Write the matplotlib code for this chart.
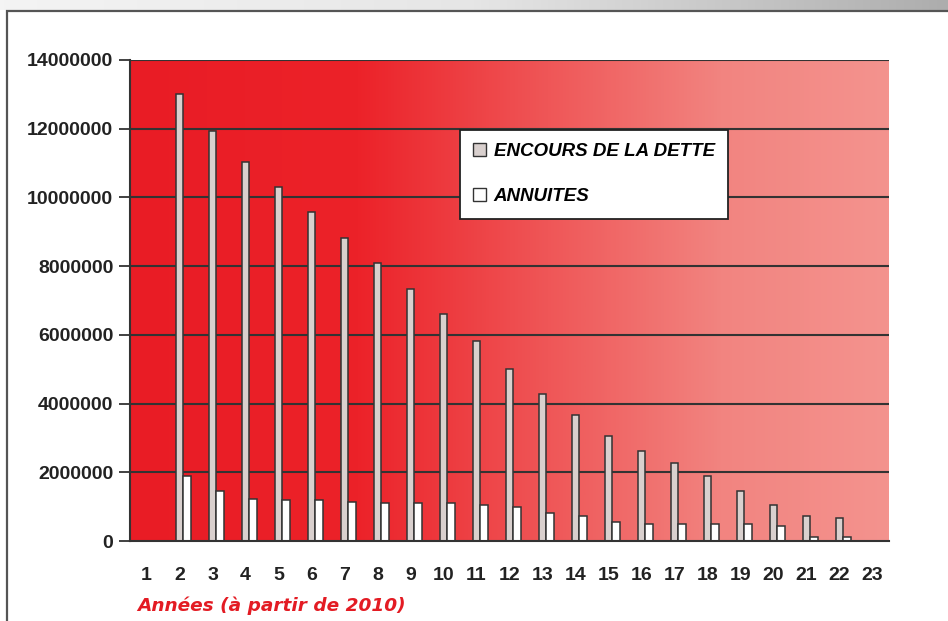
import numpy as np
import matplotlib.pyplot as plt
from matplotlib.colors import LinearSegmentedColormap
from matplotlib.patches import Rectangle, Patch

years = list(range(1, 24))
encours = [0, 13.01e6, 11.93e6, 11.03e6, 10.30e6, 9.58e6, 8.82e6, 8.09e6, 7.33e6,
           6.61e6, 5.82e6, 5.01e6, 4.28e6, 3.67e6, 3.06e6, 2.63e6, 2.27e6, 1.89e6,
           1.46e6, 1.04e6, 0.73e6, 0.67e6, 0]
annuites = [0, 1.89e6, 1.46e6, 1.21e6, 1.19e6, 1.19e6, 1.14e6, 1.10e6, 1.10e6,
            1.10e6, 1.04e6, 0.98e6, 0.81e6, 0.74e6, 0.55e6, 0.49e6, 0.49e6, 0.49e6,
            0.49e6, 0.44e6, 0.13e6, 0.13e6, 0]
yticks = [0, 2000000, 4000000, 6000000, 8000000, 10000000, 12000000, 14000000]
labels = ["ENCOURS DE LA DETTE", "ANNUITES"]

W, H = 948, 621
fig = plt.figure(figsize=[W / 100, H / 100], dpi=100)

# grey strip on top and frame of the page
top = fig.add_axes([0, 1 - 10 / H, 1, 10 / H])
top.imshow(np.linspace(0, 1, 256).reshape(1, -1), aspect="auto",
           cmap=LinearSegmentedColormap.from_list("g", ["#f4f4f4", "#e6e6e6", "#adadad"]))
top.axis("off")
fig.patches.append(Rectangle((7 / W, -0.1), 1.2, 1 - 11 / H + 0.1, transform=fig.transFigure,
                             fill=False, edgecolor="#555555", lw=1.6))

ax = fig.add_axes([130 / W, 1 - 541 / H, 759 / W, 481 / H])

# red gradient background
bg = LinearSegmentedColormap.from_list("bg", [(0, "#e91c25"), (0.3, "#ec2229"), (0.55, "#ef5657"),
                                              (0.78, "#f28480"), (1, "#f4938e")])
ax.imshow(np.linspace(0, 1, 512).reshape(1, -1), aspect="auto", cmap=bg,
          extent=[0, 1, 0, 1], transform=ax.transAxes, zorder=0)

x = np.array(years)
w = 0.24
ax.bar(x + 0.12 - w / 2, encours, w, color="#d9d0ce", edgecolor="#333333", lw=1.1, zorder=3)
ax.bar(x + 0.12 + w / 2, annuites, w, color="white", edgecolor="#333333", lw=1.1, zorder=3)

for t in yticks[1:]:
    ax.axhline(t, color="#333333", lw=1.5, zorder=2)

ax.set_xlim(0.5, 23.5)
ax.set_ylim(0, 14000000)
ax.set_yticks(yticks)
ax.set_yticklabels([str(t) for t in yticks])
ax.set_xticks(years)
ax.tick_params(axis="y", length=8, width=1.3, color="#333333", pad=4)
ax.tick_params(axis="x", length=0, pad=19)
for lab in ax.get_xticklabels() + ax.get_yticklabels():
    lab.set_fontfamily("Liberation Sans")
    lab.set_fontweight("bold")
    lab.set_fontsize(14)
    lab.set_color("#222222")

for s in ["top", "right"]:
    ax.spines[s].set_visible(False)
ax.spines["left"].set_color("#333333")
ax.spines["left"].set_linewidth(1.5)
ax.spines["bottom"].set_color("#333333")
ax.spines["bottom"].set_linewidth(1.5)
ax.spines["left"].set_zorder(4)
ax.spines["bottom"].set_zorder(4)

fig.text(137 / W, 1 - 606 / H, "Années (à partir de 2010)", color="#e31b23", fontsize=13.3,
         fontweight="bold", fontstyle="italic", va="center", ha="left")

handles = [Patch(facecolor="#d9d0ce", edgecolor="#333333"),
           Patch(facecolor="white", edgecolor="#333333")]
leg = ax.legend(handles, labels, loc="upper left", bbox_to_anchor=(0.4348, 0.8545),
                frameon=True, fancybox=False, framealpha=1, edgecolor="#222222",
                handlelength=0.7, handleheight=0.7, handletextpad=0.4, labelspacing=1.5,
                borderpad=0.7, borderaxespad=0,
                prop={"family": "Liberation Sans", "weight": "bold", "style": "italic", "size": 13.5})
leg.get_frame().set_linewidth(1.3)
leg.set_zorder(5)

fig.savefig("out.png", dpi=100)
